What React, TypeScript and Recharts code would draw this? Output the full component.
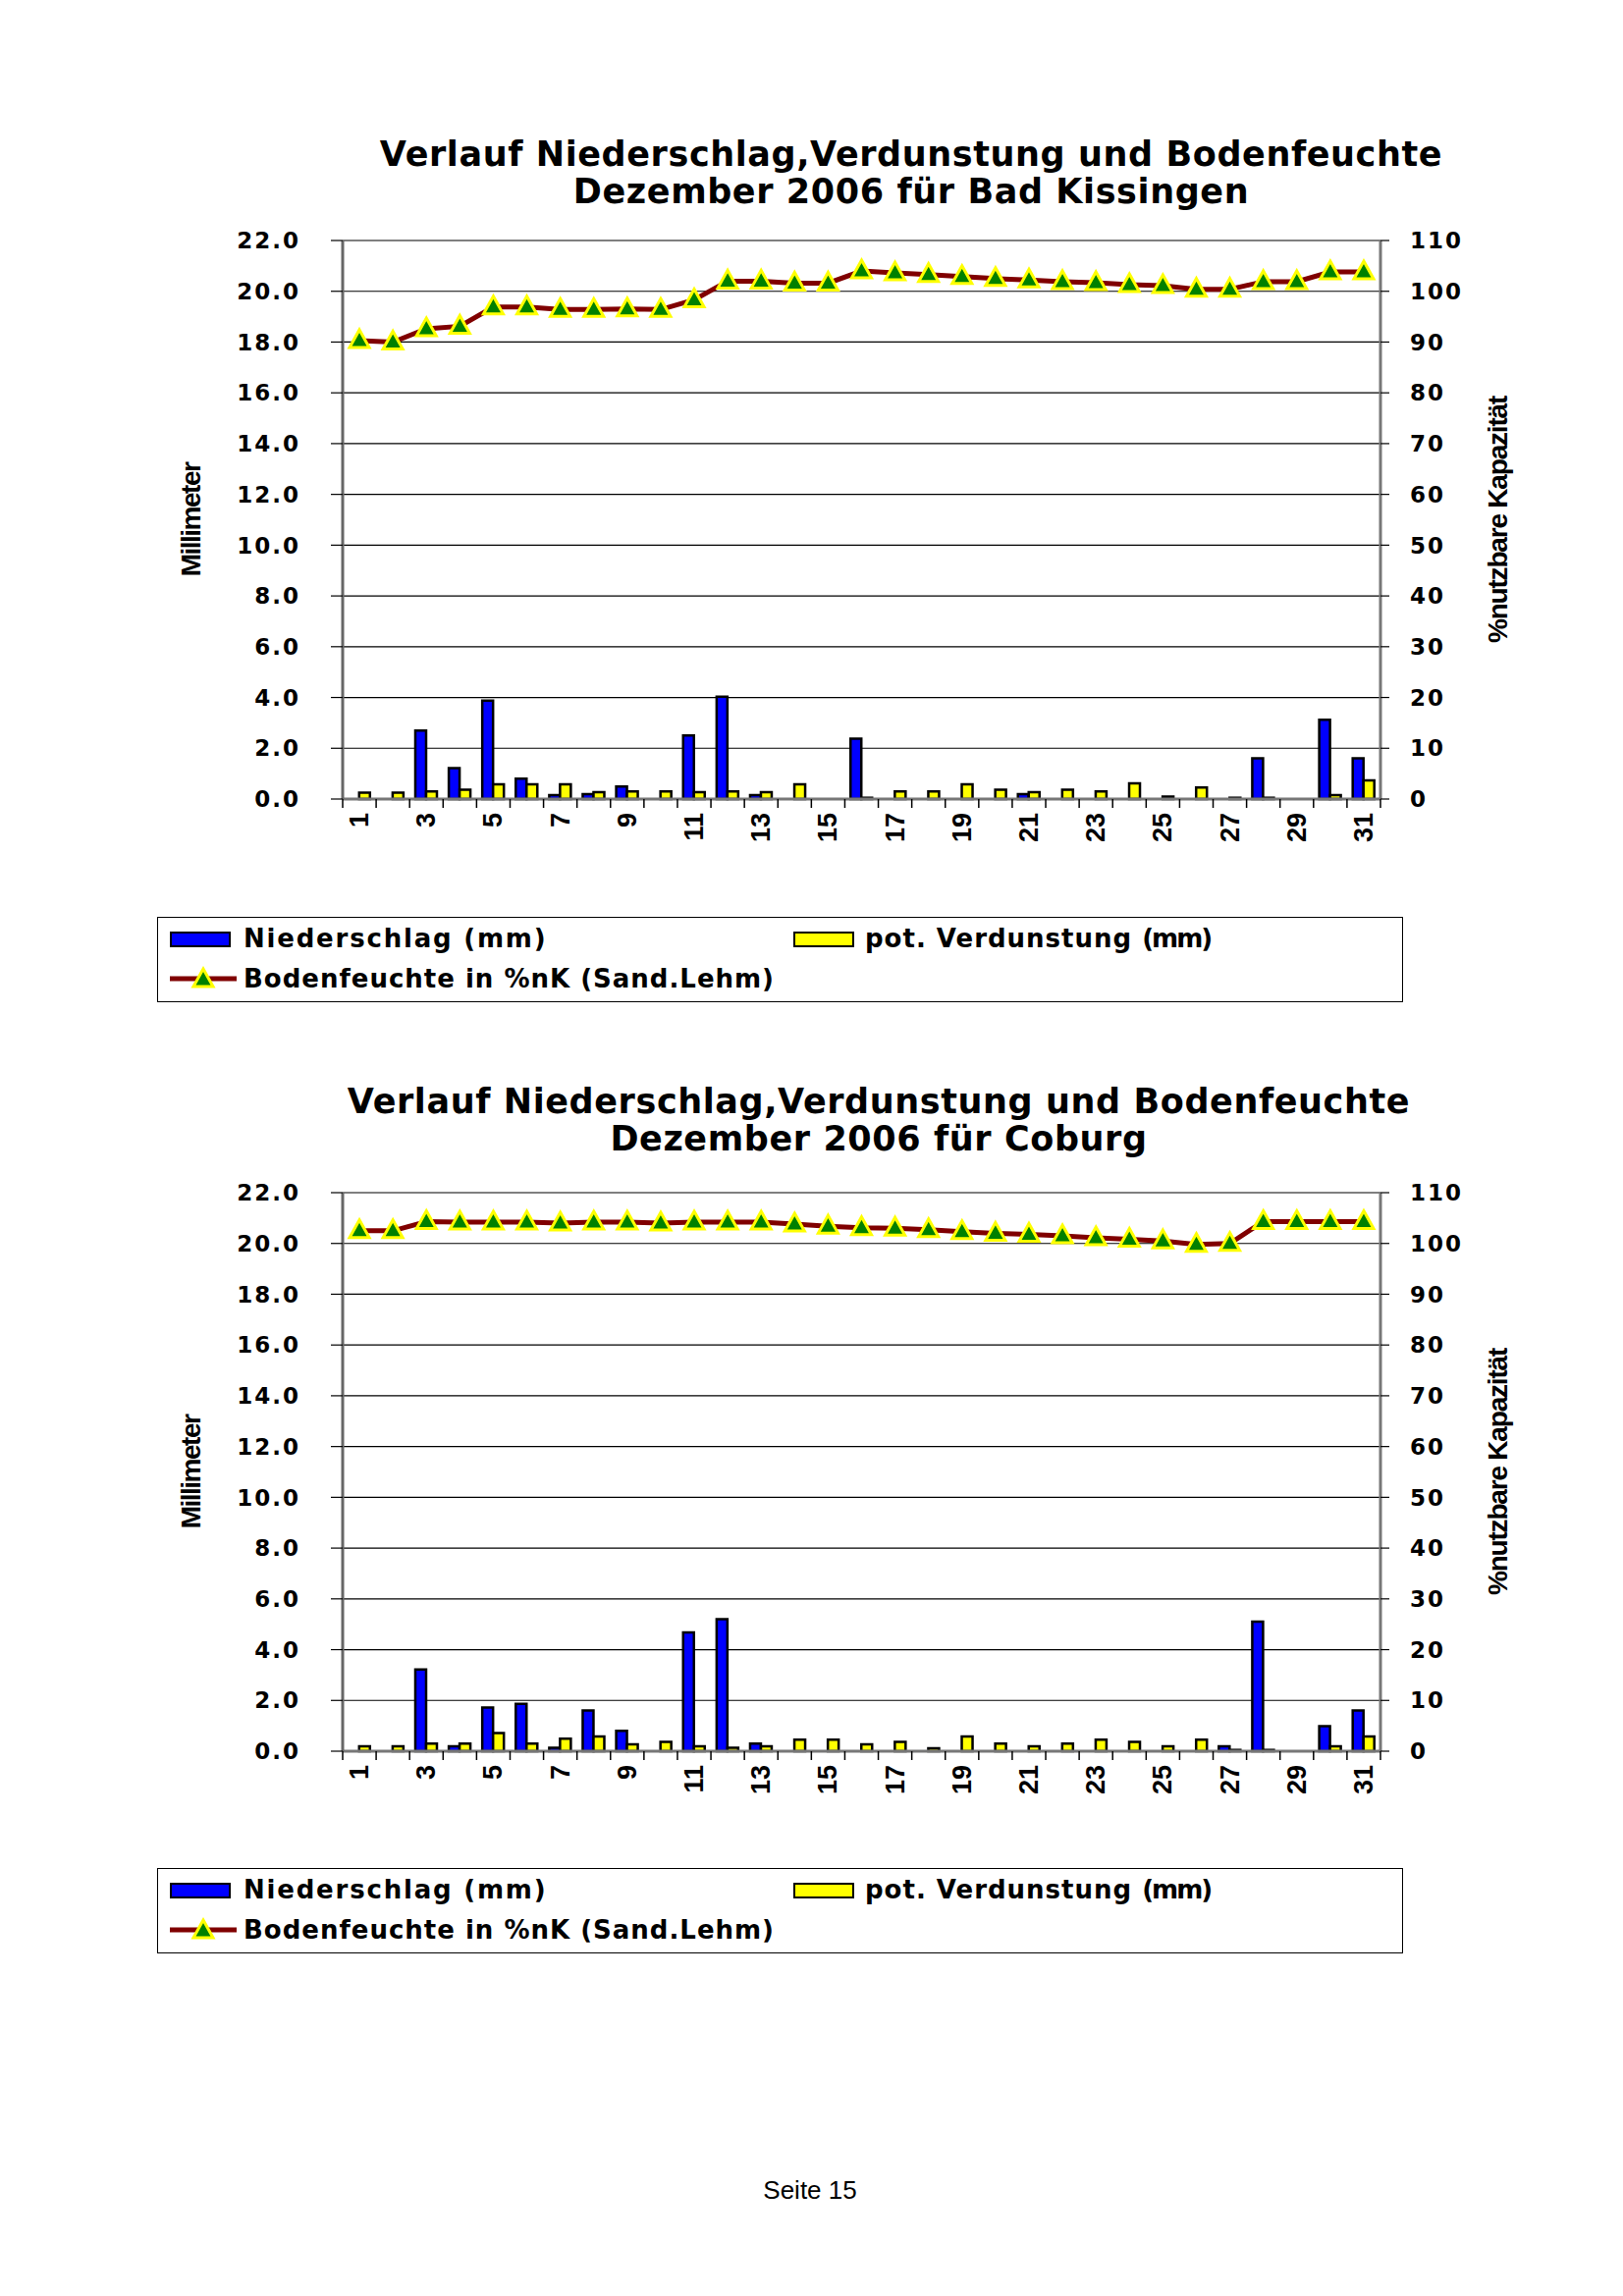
import React from 'react';
import { ComposedChart, Bar, Line, XAxis, YAxis, CartesianGrid, Label } from 'recharts';

// Tage im Dezember 2006
const DAYS = [1, 2, 3, 4, 5, 6, 7, 8, 9, 10, 11, 12, 13, 14, 15, 16, 17, 18, 19, 20, 21, 22, 23, 24, 25, 26, 27, 28, 29, 30, 31];

const MM_TICKS = [0, 2, 4, 6, 8, 10, 12, 14, 16, 18, 20, 22];
const PCT_TICKS = [0, 10, 20, 30, 40, 50, 60, 70, 80, 90, 100, 110];

// Bad Kissingen
const kissingenRain = [null, null, 2.7, 1.22, 3.88, 0.8, 0.15, 0.19, 0.49, null, 2.5, 4.03, 0.15, null, null, 2.38, null, null, null, null, 0.19, null, null, null, null, null, null, 1.6, null, 3.12, 1.6];
const kissingenEvap = [0.25, 0.25, 0.3, 0.37, 0.58, 0.58, 0.58, 0.27, 0.3, 0.3, 0.27, 0.3, 0.27, 0.58, null, 0.05, 0.3, 0.3, 0.58, 0.37, 0.27, 0.37, 0.3, 0.62, 0.1, 0.45, 0.05, 0.05, null, 0.15, 0.73];
const kissingenSoil = [90.3, 90.0, 92.6, 93.1, 96.9, 96.9, 96.4, 96.4, 96.5, 96.4, 98.3, 102.0, 102.0, 101.6, 101.6, 104.0, 103.6, 103.3, 102.9, 102.5, 102.2, 101.9, 101.7, 101.3, 101.1, 100.4, 100.4, 101.9, 101.9, 103.8, 103.8];

// Coburg
const coburgRain = [null, null, 3.22, 0.19, 1.72, 1.87, 0.14, 1.6, 0.8, null, 4.68, 5.2, 0.3, null, null, null, null, null, null, null, null, null, null, null, null, null, 0.19, 5.1, null, 0.99, 1.6];
const coburgEvap = [0.19, 0.19, 0.3, 0.3, 0.72, 0.3, 0.49, 0.58, 0.27, 0.37, 0.19, 0.14, 0.19, 0.45, 0.45, 0.27, 0.37, 0.12, 0.58, 0.3, 0.19, 0.3, 0.45, 0.37, 0.19, 0.45, 0.05, 0.05, null, 0.19, 0.58];
const coburgSoil = [102.5, 102.5, 104.3, 104.2, 104.2, 104.2, 104.0, 104.2, 104.2, 104.0, 104.2, 104.2, 104.2, 103.8, 103.4, 103.1, 103.0, 102.7, 102.3, 102.0, 101.8, 101.5, 101.1, 100.8, 100.5, 99.8, 100.0, 104.3, 104.3, 104.3, 104.3];

const TITLE_1 = 'Verlauf Niederschlag,Verdunstung und Bodenfeuchte';

const BLUE = '#0000ff';
const YELLOW = '#ffff00';
const SOIL = '#800000';
const MARKER = '#008000';

const CHART_LEFT = 140;
const CHART_W = 1420;
const CHART_H = 675;
const LEFT_AXIS_W = 209;
const RIGHT_AXIS_W = 154;
const PLOT_W = CHART_W - LEFT_AXIS_W - RIGHT_AXIS_W;
const PLOT_H = 569;
const BAND = PLOT_W / DAYS.length;

const tickFont = {
  fill: '#000',
  fontSize: 23,
  fontWeight: 'bold',
  fontFamily: 'DejaVu Sans',
  letterSpacing: 2,
};

const makeRows = (rain, evap, soil) =>
  DAYS.map((day, i) => ({ day, rain: rain[i], evap: evap[i], soil: soil[i] }));

const Triangle = ({ cx, cy }) => {
  if (cx == null || cy == null) return null;
  return (
    <path
      d={`M${cx},${cy - 11} L${cx + 10},${cy + 7} L${cx - 10},${cy + 7} Z`}
      fill={MARKER}
      stroke={YELLOW}
      strokeWidth={3}
      strokeLinejoin="miter"
    />
  );
};

const DayTick = (props) => {
  const { x, y, payload, index } = props;
  const half = BAND / 2;
  return (
    <g>
      <line x1={x - half} x2={x - half} y1={y} y2={y + 9} stroke="#000" strokeWidth={1.5} />
      {index === DAYS.length - 1 && (
        <line x1={x + half} x2={x + half} y1={y} y2={y + 9} stroke="#000" strokeWidth={1.5} />
      )}
      {payload.value % 2 === 1 && (
        <text
          transform={`translate(${x},${y + 14}) rotate(-90)`}
          textAnchor="end"
          dominantBaseline="central"
          fontFamily="Liberation Sans"
          fontWeight="bold"
          fontSize={27}
          fill="#000"
        >
          {payload.value}
        </text>
      )}
    </g>
  );
};

const axisTitle = (text, x, spacing) => () => (
  <text
    transform={`translate(${x},${20 + PLOT_H / 2}) rotate(-90)`}
    textAnchor="middle"
    dominantBaseline="central"
    fontFamily="Liberation Sans"
    fontWeight="bold"
    fontSize={28}
    letterSpacing={spacing}
    fill="#000"
  >
    {text}
  </text>
);

const LegendBox = ({ top }) => (
  <div
    style={{
      position: 'absolute',
      left: 160,
      top,
      width: 1267,
      height: 85,
      border: '1.5px solid #000',
      fontFamily: 'DejaVu Sans',
      fontWeight: 'bold',
      fontSize: 26,
      letterSpacing: 1,
      color: '#000',
    }}
  >
    <div style={{ position: 'absolute', left: 12, top: 14, width: 58, height: 12, background: BLUE, border: '2px solid #000' }} />
    <div style={{ position: 'absolute', left: 87, top: 3, lineHeight: '36px', whiteSpace: 'nowrap', letterSpacing: 1.8 }}>Niederschlag (mm)</div>
    <div style={{ position: 'absolute', left: 647, top: 14, width: 58, height: 12, background: YELLOW, border: '2px solid #000' }} />
    <div style={{ position: 'absolute', left: 720, top: 3, lineHeight: '36px', whiteSpace: 'nowrap' }}>
      pot. Verdunstung <span style={{ letterSpacing: -2 }}>(mm)</span>
    </div>
    <svg style={{ position: 'absolute', left: 10, top: 46 }} width={72} height={32}>
      <line x1={2} x2={70} y1={16} y2={16} stroke={SOIL} strokeWidth={5} />
      <Triangle cx={36} cy={17} />
    </svg>
    <div style={{ position: 'absolute', left: 87, top: 44, lineHeight: '36px', whiteSpace: 'nowrap' }}>Bodenfeuchte in %nK (Sand.Lehm)</div>
  </div>
);

const StationChart = ({ place, plotTop, titleTop, titleCenter, legendTop, rows }) => (
  <>
    <div
      style={{
        position: 'absolute',
        left: titleCenter - 700,
        width: 1400,
        top: titleTop,
        textAlign: 'center',
        fontFamily: 'DejaVu Sans',
        fontWeight: 'bold',
        fontSize: 35,
        letterSpacing: 0.6,
        lineHeight: '38px',
        color: '#000',
      }}
    >
      <div>{TITLE_1}</div>
      <div>{`Dezember 2006 für ${place}`}</div>
    </div>
    <div style={{ position: 'absolute', left: CHART_LEFT, top: plotTop - 20 }}>
      <ComposedChart
        width={CHART_W}
        height={CHART_H}
        data={rows}
        margin={{ top: 20, right: 0, bottom: 0, left: 0 }}
        barGap={0}
        barCategoryGap="17%"
      >
        <CartesianGrid xAxisId="main" yAxisId="left" vertical={false} stroke="#000" strokeWidth={1.2} />
        <XAxis
          xAxisId="top"
          orientation="top"
          dataKey="day"
          height={0}
          tick={false}
          tickLine={false}
          axisLine={{ stroke: '#888', strokeWidth: 3 }}
        />
        <XAxis
          xAxisId="main"
          dataKey="day"
          height={CHART_H - 20 - PLOT_H}
          interval={0}
          tickSize={0}
          tickMargin={0}
          tickLine={false}
          tick={<DayTick />}
          axisLine={{ stroke: '#777', strokeWidth: 3 }}
        />
        <YAxis
          yAxisId="left"
          width={LEFT_AXIS_W}
          domain={[0, 22]}
          ticks={MM_TICKS}
          interval={0}
          tickFormatter={(v) => v.toFixed(1)}
          tickSize={12}
          tickMargin={31}
          tick={tickFont}
          tickLine={{ stroke: '#000', strokeWidth: 1.2 }}
          axisLine={{ stroke: '#666', strokeWidth: 3 }}
        >
          <Label content={axisTitle('Millimeter', 54, -1.5)} />
        </YAxis>
        <YAxis
          yAxisId="right"
          orientation="right"
          width={RIGHT_AXIS_W}
          domain={[0, 110]}
          ticks={PCT_TICKS}
          interval={0}
          tickSize={9}
          tickMargin={21}
          tick={tickFont}
          tickLine={{ stroke: '#000', strokeWidth: 1.2 }}
          axisLine={{ stroke: '#777', strokeWidth: 3 }}
        >
          <Label content={axisTitle('%nutzbare Kapazität', 1385, -1.2)} />
        </YAxis>
        <Bar xAxisId="main" yAxisId="left" dataKey="rain" fill={BLUE} stroke="#000" strokeWidth={2.5} isAnimationActive={false} />
        <Bar xAxisId="main" yAxisId="left" dataKey="evap" fill={YELLOW} stroke="#000" strokeWidth={2.5} isAnimationActive={false} />
        <Line
          xAxisId="main"
          yAxisId="right"
          dataKey="soil"
          type="linear"
          stroke={SOIL}
          strokeWidth={5}
          dot={<Triangle />}
          activeDot={false}
          isAnimationActive={false}
        />
      </ComposedChart>
    </div>
    <LegendBox top={legendTop} />
  </>
);

export default function App() {
  return (
    <div style={{ position: 'absolute', left: 0, top: 0, width: 1653, height: 2339, background: '#fff' }}>
      <StationChart
        place="Bad Kissingen"
        plotTop={245}
        titleTop={138}
        titleCenter={928}
        legendTop={934}
        rows={makeRows(kissingenRain, kissingenEvap, kissingenSoil)}
      />
      <StationChart
        place="Coburg"
        plotTop={1215}
        titleTop={1103}
        titleCenter={895}
        legendTop={1903}
        rows={makeRows(coburgRain, coburgEvap, coburgSoil)}
      />
      <div
        style={{
          position: 'absolute',
          left: 625,
          width: 400,
          top: 2216,
          textAlign: 'center',
          fontFamily: 'Liberation Sans',
          fontSize: 26,
          lineHeight: '30px',
          color: '#000',
        }}
      >
        Seite 15
      </div>
    </div>
  );
}
